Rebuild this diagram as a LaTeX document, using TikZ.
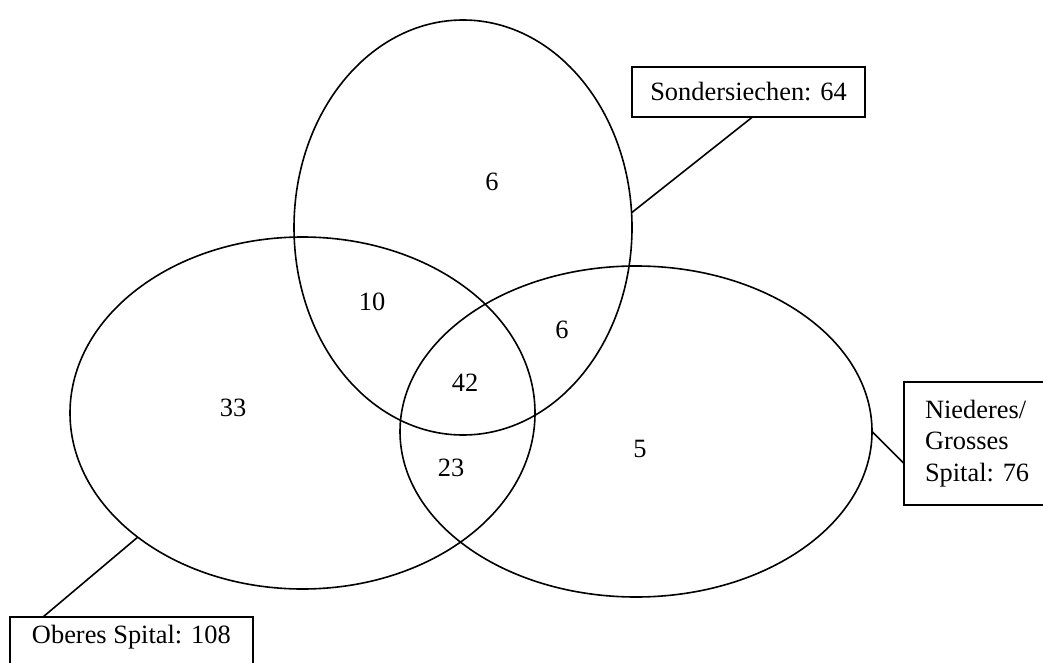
\documentclass[tikz,border=0pt]{standalone}
\usepackage{fontspec}
\setmainfont{Liberation Serif}
\usetikzlibrary{shapes.geometric}

\tikzset{
  menge/.style={draw, ellipse, inner sep=0pt, outer sep=0pt, line width=0.8pt},
  kasten/.style={draw, rectangle, outer sep=0pt, line width=0.8pt,
    font=\fontsize{13.2}{15.8}\selectfont},
  zahl/.style={font=\fontsize{13.2}{15.8}\selectfont},
  linie/.style={line width=0.8pt}
}

\begin{document}
\begin{tikzpicture}[x=0.5pt,y=-0.5pt]
\useasboundingbox (0,0) rectangle (1043,663);

% die drei Mengen
\node[menge, minimum width=169pt, minimum height=207.5pt] (sonder) at (463,227.5) {};
\node[menge, minimum width=232.5pt, minimum height=176pt] (ober) at (302.5,413) {};
\node[menge, minimum width=236pt, minimum height=165.5pt] (nieder) at (636,431.5) {};

% Anzahlen
\node[zahl] (s) at (492,182) {6};
\node[zahl] (so) at (372,302) {10};
\node[zahl] (sn) at (562,330) {6};
\node[zahl] (son) at (465,383) {42};
\node[zahl] (o) at (233,408) {33};
\node[zahl] (on) at (451,468) {23};
\node[zahl] (n) at (640,449) {5};

% Beschriftungen
\node[kasten, minimum width=116.5pt, minimum height=25pt] (sonderbox) at (748.5,92) {Sondersiechen: 64};
\node[kasten, anchor=north west, align=left, inner xsep=10.5pt, minimum height=61.5pt] (niederbox) at (904,382) {Niederes/\\Grosses\\Spital: 76};
\node[kasten, anchor=north west, inner xsep=11pt, inner ysep=4pt, text depth=20pt] (oberbox) at (10,617) {Oberes Spital: 108};

\draw[linie] (sonder.5) -- ([xshift=2pt]sonderbox.south);
\draw[linie] (nieder.east) -- ([yshift=-10pt]niederbox.west);
\draw[linie] (ober.217) -- ([xshift=16.5pt]oberbox.north west);
\end{tikzpicture}
\end{document}
